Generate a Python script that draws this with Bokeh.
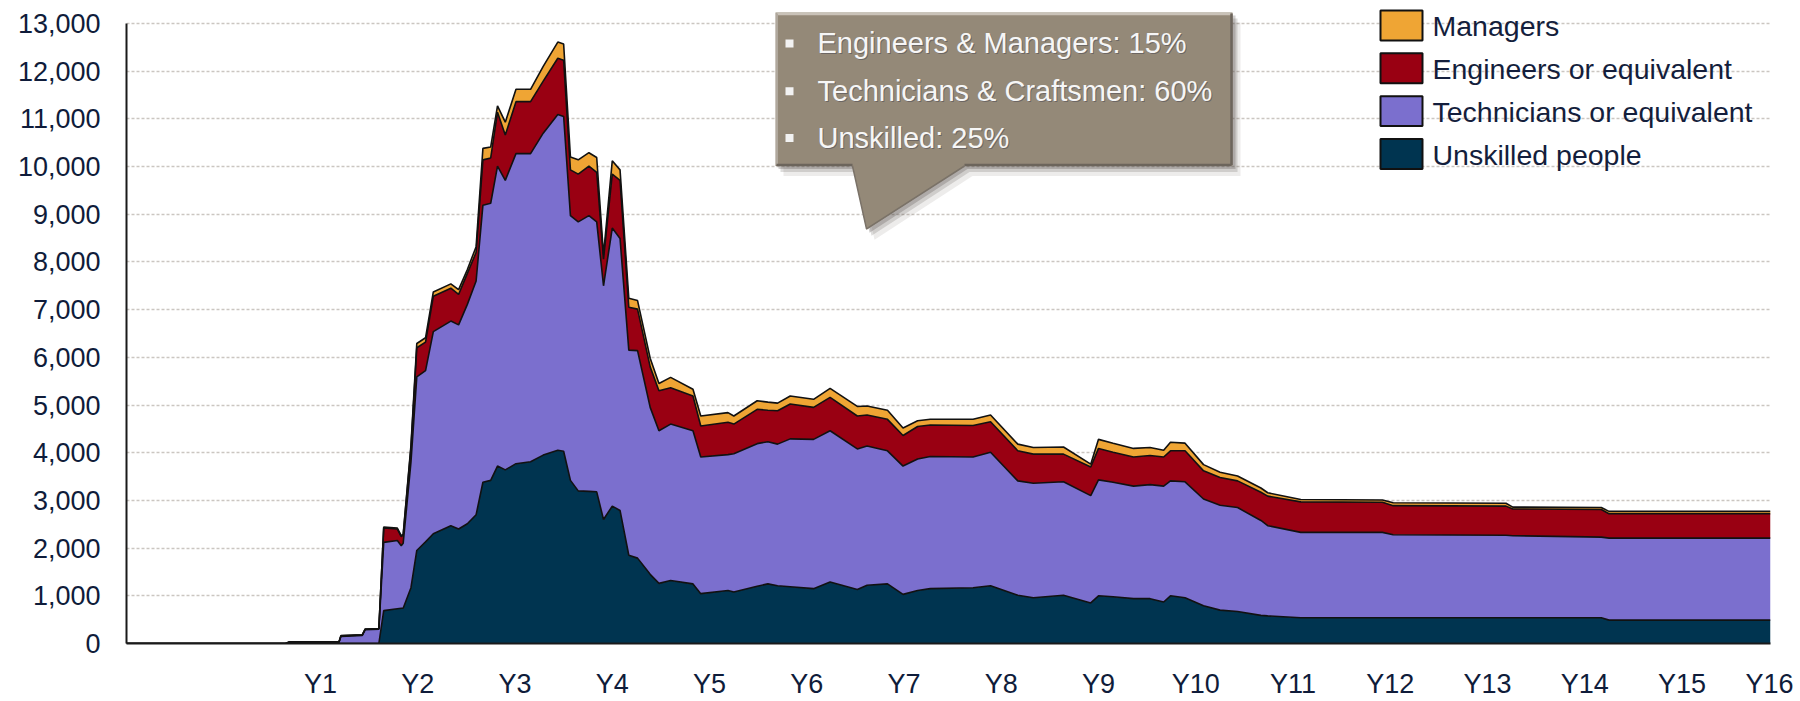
from bokeh.plotting import figure
from bokeh.models import ColumnDataSource, Range1d, FixedTicker, NumeralTickFormatter
from bokeh.core.properties import value
from bokeh.embed import file_html
from bokeh.resources import INLINE

# ---------------- data ----------------
years = [-0.995, 0.64, 0.68, 1.19, 1.21, 1.43, 1.46, 1.60, 1.65, 1.79,
         1.83, 1.85, 1.93, 1.99, 2.08, 2.16, 2.34, 2.42, 2.51, 2.60,
         2.67, 2.75, 2.82, 2.90, 3.01, 3.16, 3.29, 3.44, 3.50, 3.57,
         3.65, 3.76, 3.84, 3.91, 4.00, 4.08, 4.17, 4.26, 4.39, 4.48,
         4.60, 4.83, 4.91, 5.19, 5.25, 5.49, 5.60, 5.70, 5.83, 6.07,
         6.24, 6.52, 6.62, 6.83, 6.99, 7.14, 7.27, 7.71, 7.89, 8.17,
         8.33, 8.64, 8.92, 9.00, 9.15, 9.36, 9.53, 9.67, 9.74, 9.89,
         10.08, 10.25, 10.43, 10.67, 10.74, 11.08, 11.92, 12.03, 13.19, 13.26,
         14.17, 14.25, 15.91]

unskilled = [0, 0, 0, 0, 0, 0, 0, 0, 690, 730,
             740, 740, 1170, 1950, 2130, 2300, 2470, 2400, 2510, 2700,
             3380, 3420, 3720, 3640, 3770, 3810, 3950, 4050, 4030, 3420,
             3200, 3190, 3180, 2600, 2880, 2790, 1850, 1790, 1450, 1260,
             1320, 1250, 1045, 1110, 1080, 1200, 1250, 1210, 1190, 1150,
             1290, 1130, 1220, 1250, 1030, 1110, 1150, 1170, 1210, 1010,
             960, 1010, 850, 1000, 980, 940, 940, 870, 1000, 960,
             790, 700, 670, 590, 580, 540, 540, 540, 540, 540,
             540, 490, 490]

technicians = [0, 0, 25, 25, 150, 170, 290, 300, 1430, 1430,
               1310, 1360, 2630, 3640, 3590, 4240, 4290, 4280, 4600, 4900,
               5810, 5810, 6290, 6070, 6500, 6460, 6750, 7040, 7020, 5550,
               5640, 5780, 5660, 4900, 5830, 5700, 4300, 4350, 3500, 3200,
               3280, 3210, 2865, 2850, 2900, 2990, 2980, 2970, 3100, 3130,
               3170, 2950, 2920, 2790, 2690, 2760, 2770, 2740, 2800, 2400,
               2400, 2380, 2250, 2430, 2400, 2360, 2390, 2430, 2410, 2430,
               2240, 2200, 2180, 1990, 1890, 1790, 1790, 1740, 1730, 1720,
               1690, 1720, 1720]

engineers = [0, 0, 5, 5, 10, 10, 10, 10, 300, 240,
             190, 170, 300, 610, 600, 740, 690, 640, 650, 600,
             950, 950, 1130, 950, 1090, 1090, 1090, 1180, 1180, 960,
             1000, 1040, 1040, 560, 1130, 1220, 900, 870, 850, 840,
             760, 730, 650, 680, 620, 720, 660, 700, 730, 670,
             700, 690, 650, 660, 640, 680, 660, 660, 640, 630,
             610, 580, 600, 660, 630, 610, 610, 610, 630, 650,
             590, 580, 560, 590, 620, 640, 630, 610, 610, 560,
             580, 510, 510]

managers = [0, 0, 5, 5, 5, 5, 5, 5, 20, 20,
            20, 20, 50, 90, 90, 90, 90, 100, 80, 120,
            240, 230, 130, 270, 260, 260, 310, 340, 340, 270,
            300, 280, 310, 90, 280, 220, 190, 180, 180, 150,
            220, 140, 210, 200, 170, 180, 170, 160, 170, 170,
            190, 200, 190, 190, 160, 120, 120, 130, 140, 140,
            140, 150, 60, 190, 190, 180, 170, 140, 180, 160,
            130, 110, 100, 90, 70, 50, 50, 60, 60, 40,
            40, 50, 50]

series_keys = ["unskilled", "technicians", "engineers", "managers"]
series_names = ["Unskilled people", "Technicians or equivalent",
                "Engineers or equivalent", "Managers"]
series_colors = ["#003450", "#7B6FCE", "#990012", "#EFA534"]

x_tick_pos = [1, 2, 3, 4, 5, 6, 7, 8, 9, 10, 11, 12, 13, 14, 15, 15.9]
x_tick_labels = ["Y1", "Y2", "Y3", "Y4", "Y5", "Y6", "Y7", "Y8", "Y9", "Y10",
                 "Y11", "Y12", "Y13", "Y14", "Y15", "Y16"]
y_ticks = [0, 1000, 2000, 3000, 4000, 5000, 6000, 7000, 8000, 9000,
           10000, 11000, 12000, 13000]

callout_lines = ["Engineers & Managers: 15%",
                 "Technicians & Craftsmen: 60%",
                 "Unskilled: 25%"]

# ---------------- layout constants (canvas pixels) ----------------
FONT = "Liberation Sans"
W, H = 1800, 701
FL, FR, FT, FB = 126, 1770, 4, 645   # frame edges on the canvas
X0, X1 = -0.995, 15.91
YMAX = 13000 * (FB - FT) / 622.0


def px_x(px):
    return X0 + (px - FL) / (FR - FL) * (X1 - X0)


def px_y(py):
    return YMAX * (FB - py) / (FB - FT)


p = figure(width=W, height=H, x_range=Range1d(X0, X1), y_range=Range1d(0, YMAX),
           output_backend="svg", toolbar_location=None,
           min_border_left=FL, min_border_right=W - FR, min_border_top=FT,
           min_border_bottom=H - FB)
p.outline_line_color = None
p.background_fill_color = "white"
p.border_fill_color = "white"

# grid
p.xgrid.visible = False
p.ygrid.grid_line_color = "#CBC6C1"
p.ygrid.grid_line_width = 1.3
p.ygrid.grid_line_dash = "3 2"

# y axis
p.yaxis.ticker = FixedTicker(ticks=y_ticks)
p.yaxis.formatter = NumeralTickFormatter(format="0,0")
p.yaxis.bounds = (0, 13000)
p.yaxis.major_tick_out = 0
p.yaxis.major_tick_in = 0
p.yaxis.minor_tick_out = 0
p.yaxis.minor_tick_in = 0
p.yaxis.axis_line_color = "#1A1A1A"
p.yaxis.axis_line_width = 2
p.yaxis.major_label_standoff = 26
p.yaxis.major_label_text_font = FONT
p.yaxis.major_label_text_font_size = "27px"
p.yaxis.major_label_text_color = "#0F1C3A"

# x axis
p.xaxis.ticker = FixedTicker(ticks=x_tick_pos)
p.xaxis.major_label_overrides = dict(zip(x_tick_pos, x_tick_labels))
p.xaxis.major_tick_out = 0
p.xaxis.major_tick_in = 0
p.xaxis.minor_tick_out = 0
p.xaxis.minor_tick_in = 0
p.xaxis.axis_line_color = "#1A1A1A"
p.xaxis.axis_line_width = 2
p.xaxis.major_label_standoff = 25
p.xaxis.major_label_text_font = FONT
p.xaxis.major_label_text_font_size = "27px"
p.xaxis.major_label_text_color = "#0F1C3A"

# stacked areas
source = ColumnDataSource(dict(x=years, unskilled=unskilled, technicians=technicians,
                               engineers=engineers, managers=managers))
p.varea_stack(series_keys, x="x", color=series_colors, source=source)
p.vline_stack(series_keys, x="x", color="#111111", line_width=1.6, source=source)

# legend (drawn by hand: bordered swatches + labels, top to bottom)
leg_names = list(reversed(series_names))
leg_colors = list(reversed(series_colors))
leg_tops = [10, 53, 96, 139]
p.quad(left=px_x(1380), right=px_x(1422),
       top=[px_y(t) for t in leg_tops], bottom=[px_y(t + 30) for t in leg_tops],
       fill_color=leg_colors, line_color="#111111", line_width=2)
p.text(x=px_x(1432), y=[px_y(t + 16) for t in leg_tops], text=leg_names,
       text_font=value(FONT), text_font_size=value("28.5px"), text_color="#141E3C",
       text_baseline="middle", text_align="left")

# callout box
shape_px = [(775, 12), (1232, 12), (1232, 166), (964, 166), (866, 230), (852, 166), (775, 166)]
for dx, dy, a in [(8, 10, 0.10), (5, 6, 0.18), (3, 3, 0.25)]:
    p.patch([px_x(x + dx) for x, _ in shape_px], [px_y(y + dy) for _, y in shape_px],
            fill_color="#4A443E", fill_alpha=a, line_color=None)
p.patch([px_x(x) for x, _ in shape_px], [px_y(y) for _, y in shape_px],
        fill_color="#948978", line_color=None)
# bevel edges
p.line([px_x(776), px_x(1231)], [px_y(13.5), px_y(13.5)], line_color="#C9C2B8", line_width=2.5)
p.line([px_x(776.5), px_x(776.5)], [px_y(13), px_y(165)], line_color="#B0A89D", line_width=2)
p.line([px_x(1231), px_x(1231)], [px_y(13), px_y(165)], line_color="#6C655C", line_width=2.5)
p.line([px_x(776), px_x(852)], [px_y(165), px_y(165)], line_color="#6C655C", line_width=2.5)
p.line([px_x(964), px_x(1231)], [px_y(165), px_y(165)], line_color="#6C655C", line_width=2.5)
p.line([px_x(852), px_x(866), px_x(964)], [px_y(166), px_y(229), px_y(166)],
       line_color="#7A7268", line_width=1.5)

line_y = [43, 91, 138]
p.text(x=[px_x(818)] * 3, y=[px_y(v + 1) for v in line_y], text=callout_lines,
       text_font=value(FONT), text_font_size=value("29px"), text_color="#3A3A4A",
       text_alpha=0.45, text_baseline="middle", text_align="left")
p.text(x=[px_x(817)] * 3, y=[px_y(v) for v in line_y], text=callout_lines,
       text_font=value(FONT), text_font_size=value("29px"), text_color="#F6F6F6",
       text_baseline="middle", text_align="left")
p.scatter(x=[px_x(789)] * 3, y=[px_y(v) for v in line_y], marker="square", size=8,
          fill_color="#F2F2F2", line_color=None)

open("out.html", "w").write(file_html(p, INLINE))
